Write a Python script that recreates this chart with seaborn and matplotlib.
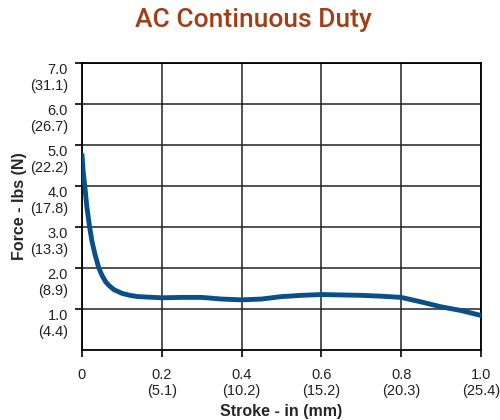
import numpy as np
import pandas as pd
import matplotlib
matplotlib.use("Agg")
import matplotlib.pyplot as plt
import matplotlib.transforms as mtransforms
import seaborn as sns

# curve (stroke in inches, force in lbs)
stroke_in = [0.0, 0.003, 0.007, 0.012, 0.019, 0.025, 0.032, 0.042, 0.05, 0.06, 0.07, 0.08,
             0.1, 0.12, 0.14, 0.16, 0.2, 0.25, 0.3, 0.35, 0.4, 0.45, 0.5, 0.55,
             0.6, 0.65, 0.7, 0.75, 0.8, 0.85, 0.9, 0.95, 1.0]
force_lbs = [4.76, 4.35, 4.0, 3.5, 3.0, 2.65, 2.35, 2.0, 1.82, 1.65, 1.55, 1.47,
             1.38, 1.33, 1.30, 1.29, 1.27, 1.28, 1.28, 1.24, 1.22, 1.24, 1.30, 1.33,
             1.35, 1.34, 1.33, 1.31, 1.28, 1.17, 1.05, 0.96, 0.84]

y_ticks = [1.0, 2.0, 3.0, 4.0, 5.0, 6.0, 7.0]
y_ticks_n = ["4.4", "8.9", "13.3", "17.8", "22.2", "26.7", "31.1"]
x_ticks = [0.0, 0.2, 0.4, 0.6, 0.8, 1.0]
x_ticks_mm = ["", "5.1", "10.2", "15.2", "20.3", "25.4"]

df = pd.DataFrame({"Stroke": stroke_in, "Force": force_lbs})

sns.set_style("ticks")
plt.rcParams['font.family'] = ['Liberation Sans', 'DejaVu Sans']

fig = plt.figure(figsize=(5, 4.2), dpi=100)
ax = fig.add_axes([0.164, 0.167, 0.798, 0.683])

sns.lineplot(data=df, x="Stroke", y="Force", ax=ax, color="#0b4f8a", linewidth=3.5,
             zorder=3)

ax.set_xlim(0, 1.0)
ax.set_ylim(0, 7.0)
ax.set_xticks(x_ticks)
ax.set_yticks(y_ticks)

xlabels = ["0"] + [f"{v:.1f}\n({mm})" for v, mm in zip(x_ticks[1:], x_ticks_mm[1:])]
ylabels = [f"{v:.1f}\n({n})" for v, n in zip(y_ticks, y_ticks_n)]
ax.set_xticklabels(xlabels, fontsize=10.5, color="#222222", va="top")
ax.set_yticklabels(ylabels, fontsize=10.5, color="#222222", ha="right", ma="right")

ax.tick_params(axis="both", direction="out", length=5, width=1.2, color="black")
ax.tick_params(axis="x", pad=8)
ax.tick_params(axis="y", pad=5)

# push the two-line y labels down so the value sits on the line
off = mtransforms.ScaledTranslation(0, -9 / 72, fig.dpi_scale_trans)
for lab in ax.get_yticklabels():
    lab.set_transform(lab.get_transform() + off)

ax.grid(True, color="#222222", linewidth=1.1)
for s in ax.spines.values():
    s.set_color("black")
    s.set_linewidth(1.3)

ax.set_xlabel("Stroke - in (mm)", fontsize=11.5, fontweight="bold", labelpad=4)
ax.set_ylabel("Force - lbs (N)", fontsize=11.5, fontweight="bold", labelpad=2)

fig.text(0.506, 0.952, "AC Continuous Duty", ha="center", va="center",
         fontsize=19, fontweight="medium", color="#a13d17",
         family=["Roboto", "DejaVu Sans"])

fig.savefig("out.png", dpi=100)
